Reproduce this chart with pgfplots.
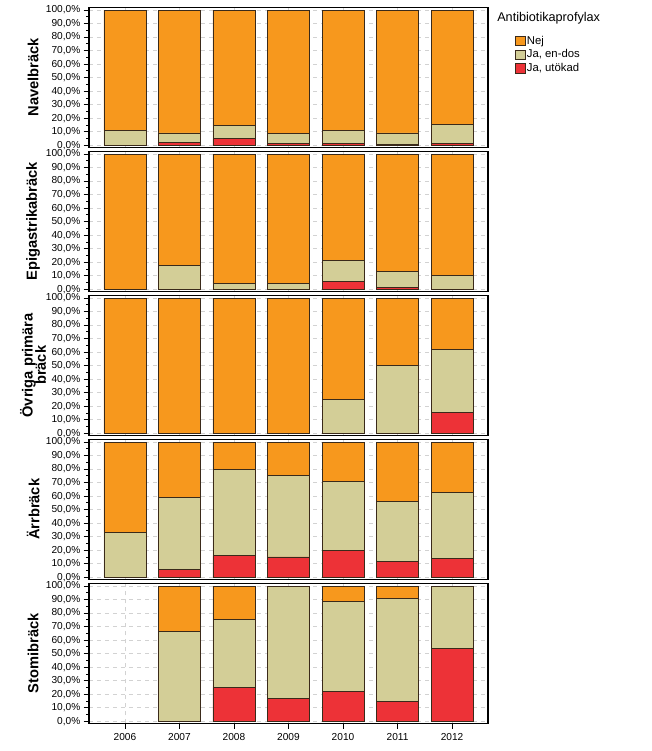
\documentclass[border=0pt]{standalone}
\usepackage{pgfplots}
\pgfplotsset{compat=1.18}
\usepackage{pgfplotstable}
\usepackage{fontspec}
\setmainfont{Liberation Sans}

\definecolor{cnej}{HTML}{F7981D}
\definecolor{cdos}{HTML}{D3CE97}
\definecolor{cutok}{HTML}{ED3237}
\definecolor{cedge}{HTML}{3A2A1A}

% columns: x (0=2006 ... 6=2012), utokad, endos, nej
\pgfplotstableread{
x r k n
0 0 10.6 89.4
1 2.0 7.1 90.9
2 5.0 9.3 85.7
3 1.5 6.9 91.6
4 1.2 9.7 89.1
5 0.6 8.5 90.9
6 1.0 14.3 84.7
}\navel
\pgfplotstableread{
x r k n
0 0 0 100
1 0 17.8 82.2
2 0 4.1 95.9
3 0 4.1 95.9
4 5.9 15.6 78.5
5 1.2 12.1 86.7
6 0 9.9 90.1
}\epig
\pgfplotstableread{
x r k n
0 0 0 100
1 0 0 100
2 0 0 100
3 0 0 100
4 0 25.0 75.0
5 0 50.0 50.0
6 15.4 46.2 38.4
}\ovriga
\pgfplotstableread{
x r k n
0 0 33.3 66.7
1 6.1 53.2 40.7
2 16.0 64.0 20.0
3 15.0 60.3 24.7
4 19.7 51.4 28.9
5 11.6 44.4 44.0
6 14.0 49.0 37.0
}\arr
\pgfplotstableread{
x r k n
0 0 0 0
1 0 66.7 33.3
2 25.0 50.0 25.0
3 16.7 83.3 0
4 22.2 66.7 11.1
5 14.3 76.2 9.5
6 53.7 46.3 0
}\stomi

\pgfplotsset{panel/.style={
  scale only axis, width=299.25pt, height=105pt,
  anchor=north west,
  ybar stacked, bar width=31.5pt,
  xmin=-0.66, xmax=6.66, ymin=-1.5, ymax=102,
  xtick={0,1,2,3,4,5,6},
  ytick={0,10,...,100}, minor y tick num=1,
  grid=major, major grid style={dashed, gray!35, line width=0.4pt},
  ytick pos=left, xtick pos=bottom, tick align=outside,
  yticklabel={\pgfmathprintnumber[fixed,fixed zerofill,precision=1,use comma]{\tick}\%},
  /pgf/number format/assume math mode=true,
  tick label style={font=\fontsize{7.6}{8.5}\selectfont},
  yticklabel style={xshift=1pt},
  major tick length=4pt, minor tick length=2pt,
  tick style={black, line width=0.6pt},
  axis line style={black, line width=0.8pt},
  ylabel style={at={(axis description cs:-0.14,0.5)}, anchor=center, font=\fontsize{11}{11}\selectfont\bfseries, align=center},
  every axis plot/.append style={draw=cedge, line width=0.7pt},
  legend image code/.code={\draw[#1,draw=cedge,line width=0.6pt] (0pt,-3.6pt) rectangle (7.2pt,3.6pt);},
},
nox/.style={xticklabels={}, x tick style={draw=none}}
}

\begin{document}
\begin{tikzpicture}
\useasboundingbox (0,0) rectangle (488.25pt,-563.25pt);

\begin{axis}[panel, nox, at={(66.75pt,-5.475pt)}, ylabel={Navelbräck},
  reverse legend,
  legend style={at={(axis description cs:1,1)}, anchor=north west, xshift=20pt, yshift=-20pt,
    draw=none, fill=none, inner sep=0pt, font=\fontsize{8.5}{10}\selectfont,
    row sep=0.3pt, nodes={inner sep=1.2pt}},
  legend cell align=left]
\addplot[fill=cutok] table[x=x,y=r]{\navel};
\addplot[fill=cdos] table[x=x,y=k]{\navel};
\addplot[fill=cnej] table[x=x,y=n]{\navel};
\legend{{Ja, utökad},{Ja, en-dos},{Nej}}
\end{axis}
\node[anchor=west, font=\fontsize{9.5}{11}\selectfont, inner sep=0pt] at (372.75pt,-13.5pt) {Antibiotikaprofylax};

\begin{axis}[panel, nox, at={(66.75pt,-113.475pt)}, ylabel={Epigastrikabräck}]
\addplot[fill=cutok] table[x=x,y=r]{\epig};
\addplot[fill=cdos] table[x=x,y=k]{\epig};
\addplot[fill=cnej] table[x=x,y=n]{\epig};
\end{axis}

\begin{axis}[panel, nox, at={(66.75pt,-221.475pt)}, ylabel={Övriga primära\\[-1pt]bräck}]
\addplot[fill=cutok] table[x=x,y=r]{\ovriga};
\addplot[fill=cdos] table[x=x,y=k]{\ovriga};
\addplot[fill=cnej] table[x=x,y=n]{\ovriga};
\end{axis}

\begin{axis}[panel, nox, at={(66.75pt,-329.475pt)}, ylabel={Ärrbräck}]
\addplot[fill=cutok] table[x=x,y=r]{\arr};
\addplot[fill=cdos] table[x=x,y=k]{\arr};
\addplot[fill=cnej] table[x=x,y=n]{\arr};
\end{axis}

\begin{axis}[panel, at={(66.75pt,-437.475pt)}, ylabel={Stomibräck},
  xticklabels={2006,2007,2008,2009,2010,2011,2012}]
\addplot[fill=cutok] table[x=x,y=r]{\stomi};
\addplot[fill=cdos] table[x=x,y=k]{\stomi};
\addplot[fill=cnej] table[x=x,y=n]{\stomi};
\end{axis}
\end{tikzpicture}
\end{document}
